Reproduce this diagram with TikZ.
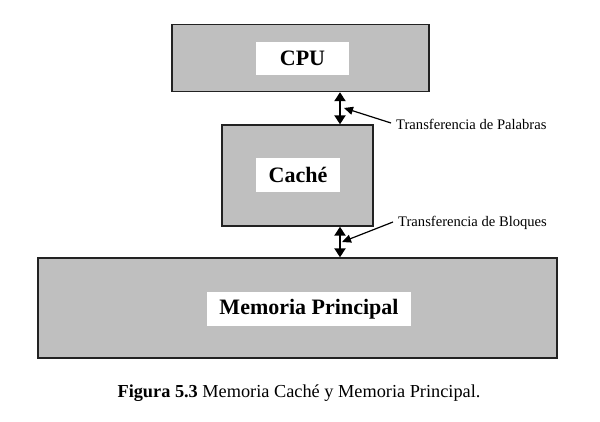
\documentclass[tikz,border=0pt]{standalone}
\usepackage{fontspec}
\setmainfont{Liberation Serif}
\usetikzlibrary{arrows.meta}
\definecolor{boxgray}{HTML}{BFBFBF}
\definecolor{edge}{HTML}{222222}
\begin{document}
\begin{tikzpicture}[x=1pt,y=-1pt,
  unitbox/.style={draw=edge,line width=1.4pt,fill=boxgray,inner sep=0pt,minimum width=#1},
  whitelab/.style={fill=white,inner sep=0pt,font=\fontsize{22}{24}\selectfont\bfseries,text=black},
  dbl/.style={{Triangle[length=9pt,width=11pt]}-{Triangle[length=9pt,width=11pt]},line width=2.6pt},
  pointer/.style={-{Triangle[length=9pt,width=8pt]},line width=1.2pt},
  small/.style={font=\fontsize{14.6}{16}\selectfont,inner sep=0pt,anchor=west}]
\useasboundingbox (0,0) rectangle (600,421);
\node[unitbox=257pt,minimum height=67pt] (cpu) at (300.5,58) {};
\node[unitbox=151pt,minimum height=101pt] (cache) at (297.5,175.5) {};
\node[unitbox=519pt,minimum height=100pt] (mem) at (297.5,308) {};
\node[whitelab,minimum width=93pt,minimum height=33pt] (cpul) at (302.5,58.5) {CPU};
\node[whitelab,minimum width=84pt,minimum height=34pt] (cachel) at (298,175) {Caché};
\node[whitelab,minimum width=204pt,minimum height=34pt] (meml) at (309,309) {Memoria Principal};
\coordinate (ax) at (340,0);
\draw[dbl] (cpu.south -| ax) -- (cache.north -| ax);
\draw[dbl] (cache.south -| ax) -- (mem.north -| ax);
\node[small] (t1) at (396,124) {Transferencia de Palabras};
\node[small] (t2) at (398,223) {Transferencia de Bloques};
\coordinate (p1) at (344,108);
\coordinate (p2) at (342,242);
\draw[pointer] ([xshift=-5pt,yshift=1pt]t1.west) -- (p1);
\draw[pointer] ([xshift=-5pt,yshift=1pt]t2.west) -- (p2);
\node[font=\fontsize{18.3}{20}\selectfont,inner sep=0pt] (cap) at (299,393) {\textbf{Figura 5.3} Memoria Caché y Memoria Principal.};
\end{tikzpicture}
\end{document}
